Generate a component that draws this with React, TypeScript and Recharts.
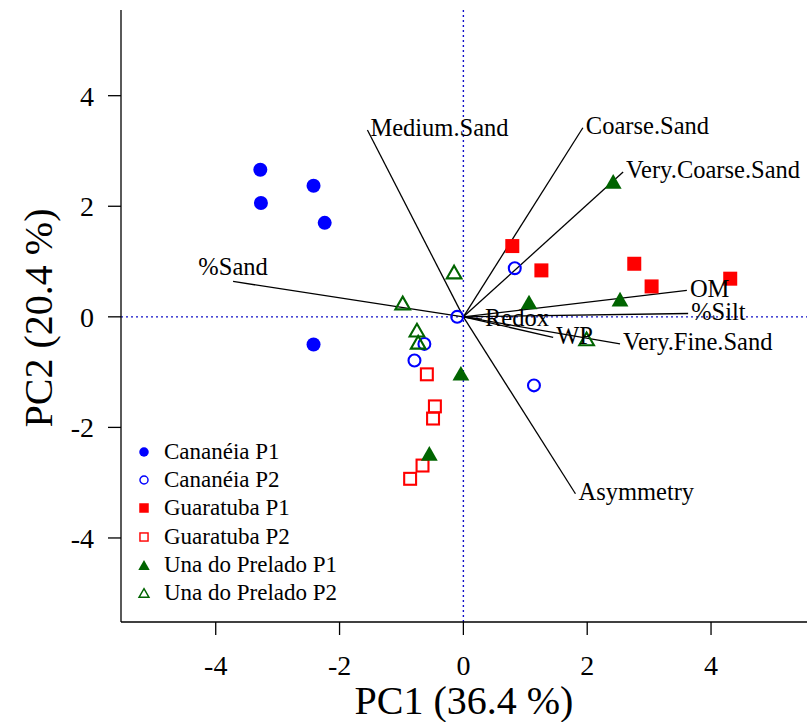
import React from 'react';
import { ScatterChart, Scatter, XAxis, YAxis, ReferenceLine, Legend } from 'recharts';

const FONT = '"Liberation Serif", "Times New Roman", serif';

// PCA scores (PC1, PC2) per site / period
const cananeiaP1 = [
  { x: -3.28, y: 2.66 },
  { x: -3.27, y: 2.06 },
  { x: -2.42, y: 2.37 },
  { x: -2.24, y: 1.70 },
  { x: -2.42, y: -0.50 },
];
const cananeiaP2 = [
  { x: 0.83, y: 0.88 },
  { x: -0.10, y: 0.0 },
  { x: -0.63, y: -0.49 },
  { x: -0.79, y: -0.79 },
  { x: 1.14, y: -1.24 },
];
const guaratubaP1 = [
  { x: 0.79, y: 1.28 },
  { x: 1.26, y: 0.84 },
  { x: 2.76, y: 0.96 },
  { x: 3.04, y: 0.55 },
  { x: 4.31, y: 0.69 },
];
const guaratubaP2 = [
  { x: -0.59, y: -1.04 },
  { x: -0.46, y: -1.62 },
  { x: -0.49, y: -1.84 },
  { x: -0.66, y: -2.69 },
  { x: -0.86, y: -2.93 },
];
const unaP1 = [
  { x: 2.42, y: 2.45 },
  { x: 1.06, y: 0.27 },
  { x: 2.53, y: 0.32 },
  { x: -0.04, y: -1.02 },
  { x: -0.55, y: -2.47 },
];
const unaP2 = [
  { x: -0.15, y: 0.81 },
  { x: -0.98, y: 0.25 },
  { x: -0.75, y: -0.24 },
  { x: -0.73, y: -0.46 },
  { x: 1.99, y: -0.40 },
];

// loading vectors (scaled)
const loadingNames = ['Medium.Sand', 'Coarse.Sand', 'Very.Coarse.Sand', '%Sand', 'OM', '%Silt', 'Redox', 'WP', 'Very.Fine.Sand', 'Asymmetry'];
const loadingPC1 = [-1.55, 1.93, 2.58, -3.72, 3.61, 3.63, 0.30, 1.45, 2.53, 1.81];
const loadingPC2 = [3.38, 3.42, 2.62, 0.64, 0.48, 0.06, -0.04, -0.37, -0.49, -3.20];

const xTicks = [-4, -2, 0, 2, 4];
const yTicks = [-4, -2, 0, 2, 4];

const vectors = loadingNames.map((name, i) => ({ name, x: loadingPC1[i], y: loadingPC2[i] }));

const series = [
  { name: 'Cananéia P1', data: cananeiaP1, color: '#0000ff', kind: 'circle', filled: true },
  { name: 'Cananéia P2', data: cananeiaP2, color: '#0000ff', kind: 'circle', filled: false },
  { name: 'Guaratuba P1', data: guaratubaP1, color: '#ff0000', kind: 'square', filled: true },
  { name: 'Guaratuba P2', data: guaratubaP2, color: '#ff0000', kind: 'square', filled: false },
  { name: 'Una do Prelado P1', data: unaP1, color: '#006400', kind: 'triangle', filled: true },
  { name: 'Una do Prelado P2', data: unaP2, color: '#006400', kind: 'triangle', filled: false },
];

function Marker({ cx, cy, kind, filled, color, size }: any) {
  if (cx == null || cy == null) return null;
  const sw = filled ? 0 : size * 0.15;
  const fill = filled ? color : 'none';
  if (kind === 'circle') {
    return <circle cx={cx} cy={cy} r={size / 2 - sw / 2} fill={fill} stroke={color} strokeWidth={sw} />;
  }
  if (kind === 'square') {
    const s = size - sw;
    return <rect x={cx - s / 2} y={cy - s / 2} width={s} height={s} fill={fill} stroke={color} strokeWidth={sw} />;
  }
  const w = size * 1.2 - sw;
  const h = w * 0.866;
  const pts = `${cx},${cy - h / 2} ${cx + w / 2},${cy + h / 2} ${cx - w / 2},${cy + h / 2}`;
  return <polygon points={pts} fill={fill} stroke={color} strokeWidth={sw} strokeLinejoin="miter" />;
}

function XTick({ x, y, payload }: any) {
  return (
    <text x={x} y={y} dy="0.71em" textAnchor="middle" fontFamily={FONT} fontSize={28} fill="#000">
      {payload.value}
    </text>
  );
}

function YTick({ x, y, payload }: any) {
  return (
    <text x={x} y={y} dy="0.36em" textAnchor="end" fontFamily={FONT} fontSize={28} fill="#000">
      {payload.value}
    </text>
  );
}

function VectorLabel(props: any) {
  const { cx, cy, payload } = props;
  if (cx == null) return null;
  const centered = payload.name === '%Sand';
  return (
    <text
      x={centered ? cx : cx + 3}
      y={centered ? cy - 15 : cy - 2}
      textAnchor={centered ? 'middle' : 'start'}
      dominantBaseline="central"
      fontFamily={FONT}
      fontSize={24.5}
      fill="#000"
    >
      {payload.name}
    </text>
  );
}

function LegendBox() {
  return (
    <div style={{ fontFamily: FONT, fontSize: 23, color: '#000' }}>
      {series.map((s) => (
        <div key={s.name} style={{ display: 'flex', alignItems: 'center', height: 28.2 }}>
          <svg width={16} height={16}>
            <Marker cx={8} cy={8} kind={s.kind} filled={s.filled} color={s.color} size={9.5} />
          </svg>
          <span style={{ marginLeft: 12, lineHeight: '28px' }}>{s.name}</span>
        </div>
      ))}
    </div>
  );
}

export default function App() {
  const axisStroke = { stroke: '#000', strokeWidth: 1.3 };
  return (
    <div style={{ position: 'absolute', left: 0, top: 0, background: '#fff' }}>
      <ScatterChart width={807} height={722} margin={{ top: 10, right: 0, bottom: 0, left: 0 }} style={{ fontFamily: FONT }}>
        <XAxis
          type="number"
          dataKey="x"
          domain={[-5.53, 5.55]}
          ticks={xTicks}
          allowDataOverflow
          height={100}
          tickSize={13}
          tickMargin={20}
          axisLine={axisStroke}
          tickLine={axisStroke}
          tick={<XTick />}
          label={{ value: 'PC1 (36.4 %)', position: 'insideBottom', offset: 8, fill: '#000', fontSize: 40, fontFamily: FONT }}
        />
        <YAxis
          type="number"
          dataKey="y"
          domain={[-5.52, 5.55]}
          ticks={yTicks}
          allowDataOverflow
          width={121}
          tickSize={13}
          tickMargin={14}
          axisLine={axisStroke}
          tickLine={axisStroke}
          tick={<YTick />}
          label={{
            content: (p: any) => {
              const vb = p.viewBox || { x: 0, y: 10, width: 121, height: 612 };
              const tx = vb.x + 52;
              const ty = vb.y + vb.height / 2 + 2;
              return (
                <text x={tx} y={ty} transform={`rotate(-90 ${tx} ${ty})`} textAnchor="middle" fontFamily={FONT} fontSize={40} fill="#000">
                  PC2 (20.4 %)
                </text>
              );
            },
          }}
        />
        <ReferenceLine x={0} stroke="#1010c8" strokeWidth={1.4} strokeDasharray="2 3" />
        <ReferenceLine y={0} stroke="#1010c8" strokeWidth={1.4} strokeDasharray="2 3" />
        {vectors.map((v) => (
          <ReferenceLine
            key={v.name}
            segment={[{ x: 0, y: 0 }, { x: v.x, y: v.y }]}
            stroke="#000"
            strokeWidth={1.3}
            ifOverflow="visible"
          />
        ))}
        {series.map((s) => (
          <Scatter
            key={s.name}
            name={s.name}
            data={s.data}
            isAnimationActive={false}
            shape={(p: any) => <Marker cx={p.cx} cy={p.cy} kind={s.kind} filled={s.filled} color={s.color} size={14} />}
          />
        ))}
        <Scatter name="vectors" data={vectors} isAnimationActive={false} legendType="none" shape={VectorLabel} />
        <Legend
          layout="vertical"
          align="center"
          verticalAlign="middle"
          content={() => <LegendBox />}
          wrapperStyle={{ position: 'absolute', left: 136, top: 438, width: 260 }}
        />
      </ScatterChart>
    </div>
  );
}
